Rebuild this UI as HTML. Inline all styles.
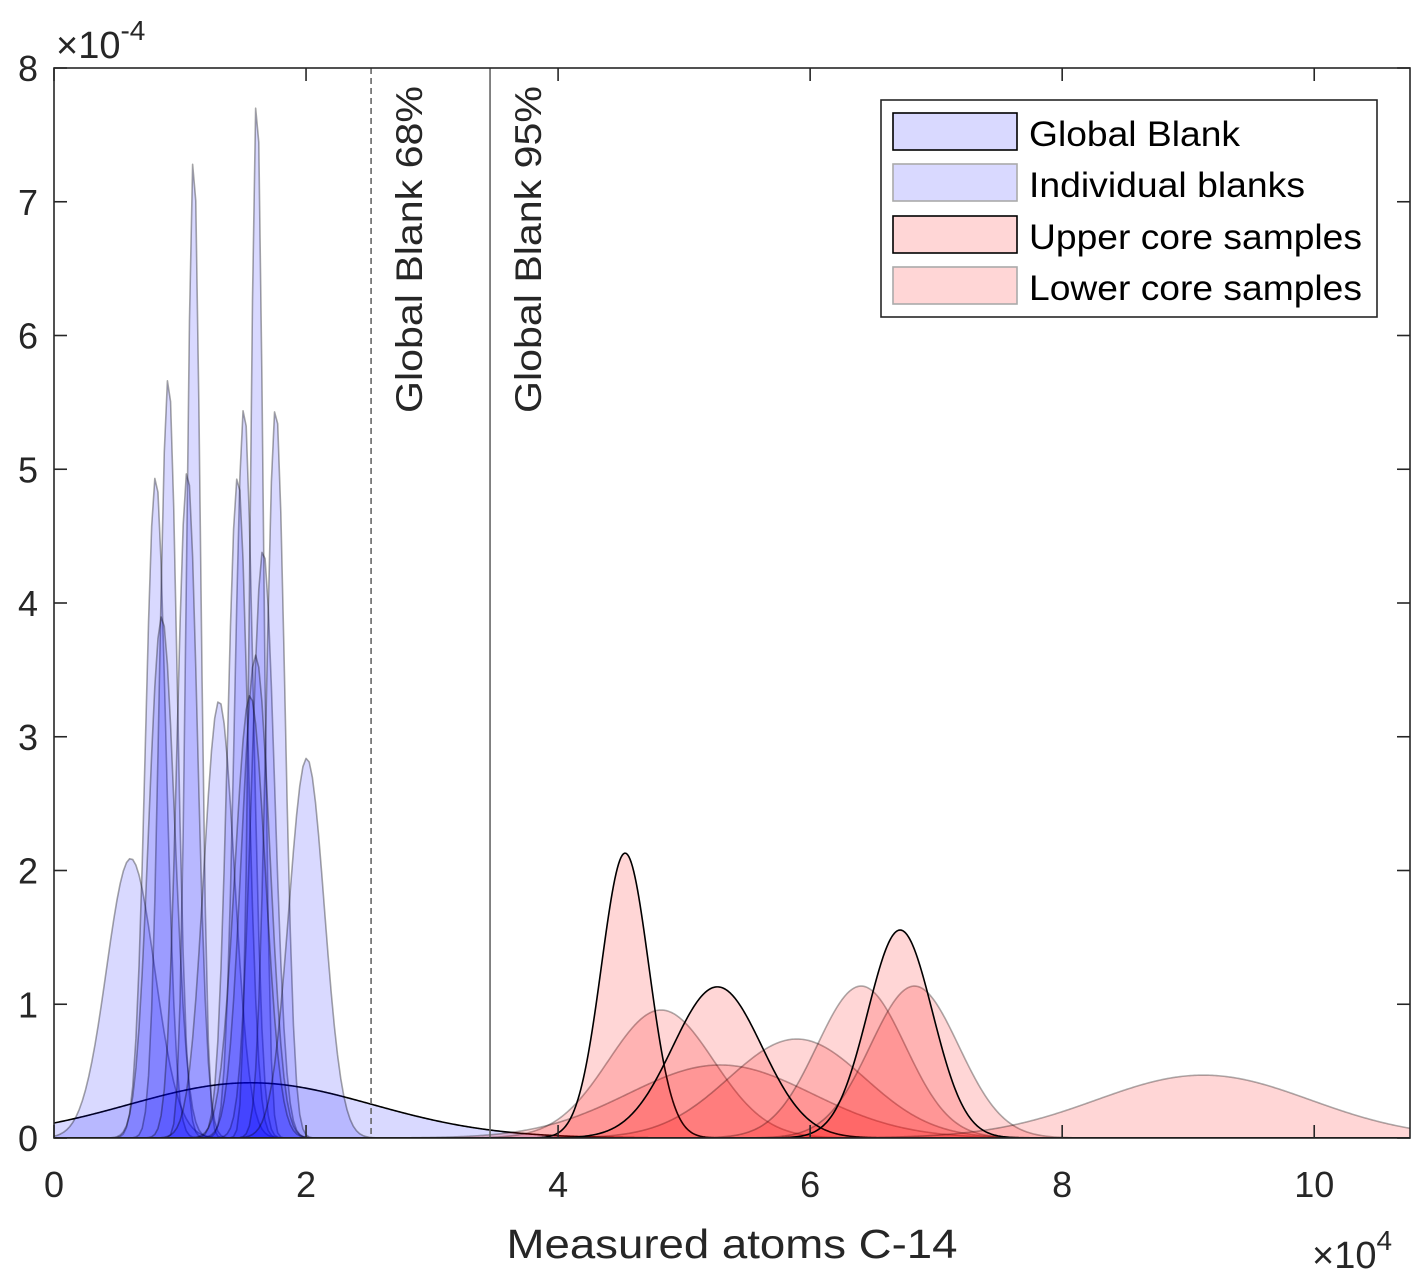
<!DOCTYPE html>
<html><head><meta charset="utf-8"><style>
html,body{margin:0;padding:0;background:#fff;}
svg{display:block;font-family:"Liberation Sans",Arial,sans-serif;}
</style></head><body>
<svg id="chart" width="1426" height="1281" viewBox="0 0 1426 1281" xmlns="http://www.w3.org/2000/svg">
<rect x="0" y="0" width="1426" height="1281" fill="#fff"/>
<g id="marks"></g>
<g id="axes"></g>
</svg>
<script>
// ---- data (x in atoms, y in probability density) ----
const blankMeans = [6080, 8070, 9070, 8550, 11080, 10580, 13100, 15080, 14580, 16090, 16590, 17590, 16000, 15560, 20050];
const blankPeaks = [2.09e-4, 4.95e-4, 5.69e-4, 3.9e-4, 7.36e-4, 4.99e-4, 3.27e-4, 5.47e-4, 4.95e-4, 7.82e-4, 4.40e-4, 5.47e-4, 3.61e-4, 3.31e-4, 2.84e-4];
const globalMean = 15600;
const globalPeak = 0.413e-4;
const upperMeans = [45320, 52640, 67140];
const upperPeaks = [2.13e-4, 1.13e-4, 1.555e-4];
const lowerMeans = [48170, 52860, 58940, 64050, 68280, 91200];
const lowerPeaks = [0.957e-4, 0.546e-4, 0.74e-4, 1.136e-4, 1.136e-4, 0.47e-4];
const xTicks = [0, 20000, 40000, 60000, 80000, 100000];
const xTickLabels = ["0", "2", "4", "6", "8", "10"];
const yTicks = [0, 1e-4, 2e-4, 3e-4, 4e-4, 5e-4, 6e-4, 7e-4, 8e-4];
const yTickLabels = ["0", "1", "2", "3", "4", "5", "6", "7", "8"];
const line68 = 25160;
const line95 = 34600;

// ---- axes ----
const L = 54, R = 1410, T = 68, B = 1138;
const XMAX = 107600, YMAX = 8e-4;
const sx = v => L + v / XMAX * (R - L);
const sy = v => B - v / YMAX * (B - T);
const NS = "http://www.w3.org/2000/svg";
const marks = document.getElementById('marks');
const axes = document.getElementById('axes');
function mk(tag, attrs, parent) {
  const e = document.createElementNS(NS, tag);
  for (const k in attrs) e.setAttribute(k, attrs[k]);
  parent.appendChild(e);
  return e;
}
function curve(mean, peak, fill, stroke, sw, name, step) {
  const s = 1 / (peak * Math.sqrt(2 * Math.PI));
  let d = '';
  for (let x = 0; x <= XMAX + step; x += step) {
    const y = peak * Math.exp(-((x - mean) ** 2) / (2 * s * s));
    d += (x === 0 ? 'M' : 'L') + sx(x).toFixed(2) + ',' + sy(y).toFixed(2);
  }
  const fillP = mk('path', {d: d + 'L' + sx(XMAX + step) + ',' + B + 'L' + sx(0) + ',' + B + 'Z', fill: fill, stroke: 'none'}, marks);
  
  
  const line = mk('path', {d: d, fill: 'none', stroke: stroke, 'stroke-width': sw, 'stroke-linejoin': 'round'}, marks);
  
  
}
const clip = mk('clipPath', {id: 'pc'}, document.getElementById('chart'));
mk('rect', {x: L, y: T, width: R - L, height: B - T}, clip);
marks.setAttribute('clip-path', 'url(#pc)');

curve(globalMean, globalPeak, 'rgba(0,0,255,0.15)', '#000', 1.6, 'global-blank', 100);
blankMeans.forEach((m, i) => curve(m, blankPeaks[i], 'rgba(0,0,255,0.15)', 'rgba(0,0,0,0.35)', 1.6, 'individual-blank-' + i, 250));
lowerMeans.forEach((m, i) => curve(m, lowerPeaks[i], 'rgba(255,0,0,0.16)', 'rgba(0,0,0,0.32)', 1.6, 'lower-core-' + i, 100));
upperMeans.forEach((m, i) => curve(m, upperPeaks[i], 'rgba(255,0,0,0.16)', '#000', 1.6, 'upper-core-' + i, 100));

// vertical lines
const v68 = mk('line', {x1: sx(line68), x2: sx(line68), y1: T, y2: B, stroke: '#666', 'stroke-width': 1.6, 'stroke-dasharray': '6,4'}, axes);


const v95 = mk('line', {x1: sx(line95), x2: sx(line95), y1: T, y2: B, stroke: '#666', 'stroke-width': 1.6}, axes);


const t68 = mk('text', {transform: 'translate(' + (sx(line68) + 51) + ',413) rotate(-90)', 'font-size': 37, textLength: 327, lengthAdjust: 'spacingAndGlyphs', fill: '#262626'}, axes);
t68.textContent = 'Global Blank 68%';


const t95 = mk('text', {transform: 'translate(' + (sx(line95) + 51) + ',413) rotate(-90)', 'font-size': 37, textLength: 327, lengthAdjust: 'spacingAndGlyphs', fill: '#262626'}, axes);
t95.textContent = 'Global Blank 95%';



// frame
const frame = mk('rect', {x: L, y: T, width: R - L, height: B - T, fill: 'none', stroke: '#262626', 'stroke-width': 1.6}, axes);


xTicks.forEach((v, i) => {
  const x = sx(v);
  mk('line', {x1: x, x2: x, y1: B, y2: B - 13, stroke: '#262626', 'stroke-width': 1.6}, axes);
  mk('line', {x1: x, x2: x, y1: T, y2: T + 13, stroke: '#262626', 'stroke-width': 1.6}, axes);
  const t = mk('text', {x: x, y: 1197, 'font-size': 36, 'text-anchor': 'middle', fill: '#262626'}, axes);
  t.textContent = xTickLabels[i];
  
  
});
yTicks.forEach((v, i) => {
  const y = sy(v);
  mk('line', {x1: L, x2: L + 13, y1: y, y2: y, stroke: '#262626', 'stroke-width': 1.6}, axes);
  mk('line', {x1: R, x2: R - 13, y1: y, y2: y, stroke: '#262626', 'stroke-width': 1.6}, axes);
  const t = mk('text', {x: 38, y: y + 13, 'font-size': 36, 'text-anchor': 'end', fill: '#262626'}, axes);
  t.textContent = yTickLabels[i];
  
  
});
</script>
<svg style="position:absolute;left:0;top:0" width="1426" height="1281">
  <g font-family="Liberation Sans, Arial, sans-serif" fill="#262626">
    <text x="56" y="58" font-size="38">×10<tspan font-size="28" dy="-18">-4</tspan></text>
    <text x="1312" y="1268" font-size="38">×10<tspan font-size="28" dy="-18">4</tspan></text>
    <text x="732" y="1258" font-size="41" text-anchor="middle" textLength="451" lengthAdjust="spacingAndGlyphs">Measured atoms C-14</text>
  </g>
  <g>
    <rect x="881" y="100" width="496" height="217" fill="#fff" stroke="#262626" stroke-width="1.6"/>
    <rect x="893" y="113" width="124" height="37" fill="#d9d9ff" stroke="#000" stroke-width="1.6"/>
    <rect x="893" y="164" width="124" height="37" fill="#d9d9ff" stroke="#aaa" stroke-width="1.6"/>
    <rect x="893" y="216" width="124" height="37" fill="#ffd6d6" stroke="#000" stroke-width="1.6"/>
    <rect x="893" y="267" width="124" height="37" fill="#ffd6d6" stroke="#aaa" stroke-width="1.6"/>
    <g font-family="Liberation Sans, Arial, sans-serif" font-size="35" fill="#000">
      <text x="1029" y="146" textLength="211" lengthAdjust="spacingAndGlyphs">Global Blank</text>
      <text x="1029" y="197" textLength="276" lengthAdjust="spacingAndGlyphs">Individual blanks</text>
      <text x="1029" y="249" textLength="333" lengthAdjust="spacingAndGlyphs">Upper core samples</text>
      <text x="1029" y="300" textLength="333" lengthAdjust="spacingAndGlyphs">Lower core samples</text>
    </g>
  </g>
</svg>
</body></html>
